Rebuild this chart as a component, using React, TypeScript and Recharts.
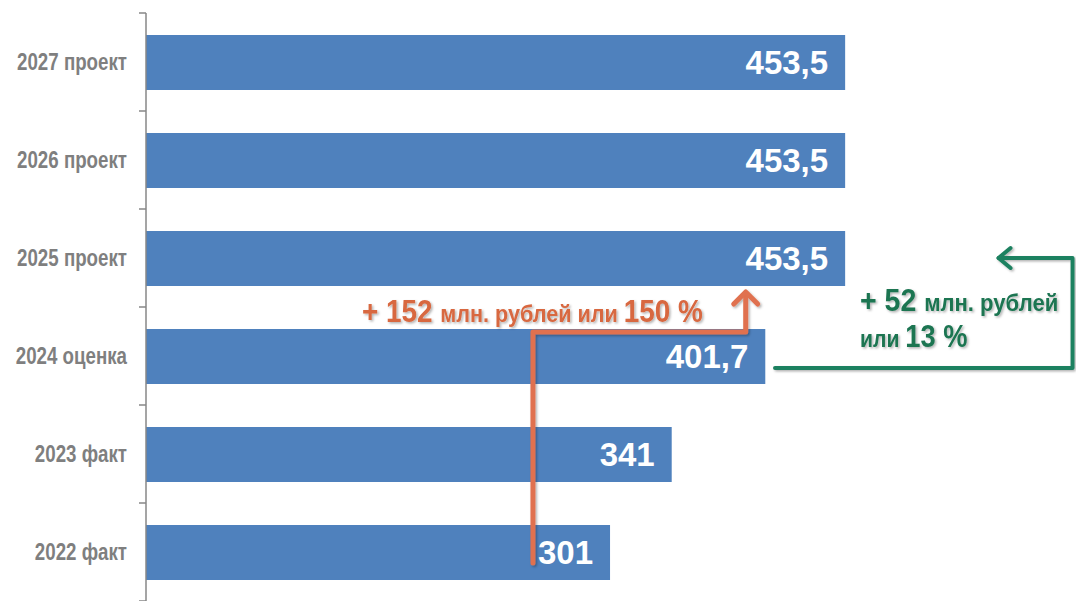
import React from 'react';
import { BarChart, Bar, XAxis, YAxis, LabelList } from 'recharts';

const categories = ['2027 проект', '2026 проект', '2025 проект', '2024 оценка', '2023 факт', '2022 факт'];
const values = [453.5, 453.5, 453.5, 401.7, 341, 301];
const valueLabels = ['453,5', '453,5', '453,5', '401,7', '341', '301'];

const data = categories.map((name, i) => ({ name, value: values[i], label: valueLabels[i] }));

const W = 1076;
const H = 601;
const M = { top: 13, right: 5, bottom: 0, left: 0 };
const AXIS_W = 146;
const X_MAX = 600;
const BAND = (H - M.top - M.bottom) / categories.length;

// same mapping the chart uses, for the annotation overlay
const sx = (v: number) => M.left + AXIS_W + (v / X_MAX) * (W - M.left - M.right - AXIS_W);
const sy = (i: number) => M.top + BAND * (i + 0.5);

const FONT = '"Liberation Sans", Arial, sans-serif';
const BAR = '#4F81BD';
const ORANGE = '#E0714F';
const ORANGE_TXT = '#D8673F';
const GREEN = '#1F8160';
const GREEN_TXT = '#1B7451';

const CatTick = (props: any) => {
  const { y, payload, index } = props;
  const ax = M.left + AXIS_W;
  return (
    <g>
      <line x1={ax - 7} x2={ax} y1={y - BAND / 2} y2={y - BAND / 2} stroke="#878787" strokeWidth={1.5} />
      {index === categories.length - 1 && (
        <line x1={ax - 7} x2={ax} y1={y + BAND / 2} y2={y + BAND / 2} stroke="#878787" strokeWidth={1.5} />
      )}
      <text
        transform={`translate(${ax - 19},${y + 8}) scale(0.78,1)`}
        textAnchor="end"
        fill="#7F7F7F"
        fontFamily={FONT}
        fontWeight="bold"
        fontSize={24}
      >
        {payload.value}
      </text>
    </g>
  );
};

function Annotations() {
  const ox1 = sx(251), ox2 = sx(389);
  const oyBottom = sy(5) + 11, oyMid = sy(3) - 24, oyTop = sy(2) + 35;
  const gx1 = sx(408), gx2 = sx(601), gxEnd = sx(553);
  const gyLow = sy(3) + 12, gyHigh = sy(2);
  return (
    <svg width={W} height={H} style={{ position: 'absolute', left: 0, top: 0, pointerEvents: 'none' }}>
      <defs>
        <filter id="sh" x="-20%" y="-20%" width="140%" height="140%">
          <feDropShadow dx="1.5" dy="1.5" stdDeviation="1.2" floodColor="#000" floodOpacity="0.3" />
        </filter>
      </defs>
      <g filter="url(#sh)" fill="none" strokeLinejoin="round" strokeLinecap="round">
        <polyline points={`${ox1},${oyBottom} ${ox1},${oyMid} ${ox2},${oyMid} ${ox2},${oyTop}`} stroke={ORANGE} strokeWidth={5} />
        <polyline points={`${ox2 - 12},${oyTop + 11} ${ox2},${oyTop - 1} ${ox2 + 12},${oyTop + 11}`} stroke={ORANGE} strokeWidth={5} />
        <polyline points={`${gx1},${gyLow} ${gx2},${gyLow} ${gx2},${gyHigh} ${gxEnd},${gyHigh}`} stroke={GREEN} strokeWidth={4} />
        <polyline points={`${gxEnd + 12},${gyHigh - 10} ${gxEnd},${gyHigh} ${gxEnd + 12},${gyHigh + 10}`} stroke={GREEN} strokeWidth={4} />
      </g>
      <g filter="url(#sh)" fontFamily={FONT} fontWeight="bold">
        <text transform="translate(362,322) scale(0.9,1)" fill={ORANGE_TXT} fontSize={24}>
          <tspan fontSize={31}>+ 152 </tspan>
          <tspan>млн. рублей или </tspan>
          <tspan fontSize={31}>150 %</tspan>
        </text>
        <text transform="translate(860,311) scale(0.92,1)" fill={GREEN_TXT} fontSize={24}>
          <tspan fontSize={31}>+ 52 </tspan>
          <tspan>млн. рублей</tspan>
        </text>
        <text transform="translate(860,347) scale(0.88,1)" fill={GREEN_TXT} fontSize={24}>
          <tspan>или </tspan>
          <tspan fontSize={31}>13 %</tspan>
        </text>
      </g>
    </svg>
  );
}

export default function App() {
  return (
    <div style={{ position: 'absolute', left: 0, top: 0, width: W, height: H, background: '#fff' }}>
      <BarChart width={W} height={H} data={data} layout="vertical" margin={M}>
        <XAxis type="number" domain={[0, X_MAX]} hide />
        <YAxis
          type="category"
          dataKey="name"
          width={AXIS_W}
          axisLine={{ stroke: '#878787', strokeWidth: 1.5 }}
          tickLine={false}
          tick={<CatTick />}
          interval={0}
        />
        <Bar dataKey="value" fill={BAR} barSize={55} isAnimationActive={false}>
          <LabelList
            dataKey="label"
            position="insideRight"
            offset={17}
            fill="#fff"
            fontFamily={FONT}
            fontWeight="bold"
            fontSize={33}
          />
        </Bar>
      </BarChart>
      <Annotations />
    </div>
  );
}
